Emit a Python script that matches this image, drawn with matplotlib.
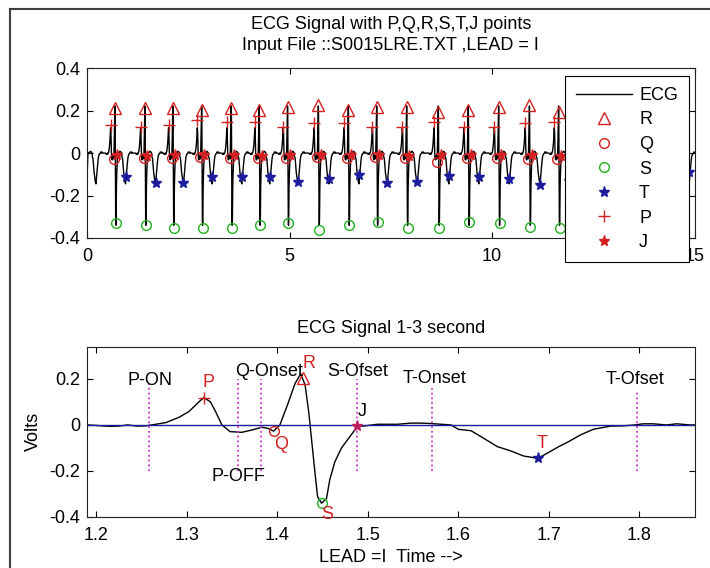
import matplotlib
matplotlib.use('Agg')
import matplotlib.pyplot as plt
from matplotlib.lines import Line2D
import numpy as np

plt.rcParams['font.family'] = ['Liberation Sans', 'DejaVu Sans']
plt.rcParams['font.size'] = 13
plt.rcParams['axes.unicode_minus'] = False

# one beat (time s, volts)
beat_t = [1.19, 1.2, 1.207, 1.215, 1.225, 1.235, 1.245, 1.255, 1.266, 1.277,
          1.2915, 1.3025, 1.3135, 1.319, 1.3264, 1.332, 1.339, 1.348, 1.361, 1.372,
          1.383, 1.390, 1.396, 1.403, 1.412, 1.4198, 1.426, 1.4308, 1.435, 1.438,
          1.4418, 1.4446, 1.449, 1.4545, 1.458, 1.4637, 1.471, 1.48, 1.4886, 1.4967,
          1.511, 1.533, 1.548, 1.559, 1.57, 1.592, 1.6, 1.614, 1.628, 1.643,
          1.658, 1.672, 1.688, 1.698, 1.711, 1.722, 1.735, 1.749, 1.768, 1.782,
          1.795, 1.804, 1.815, 1.83, 1.841, 1.856, 1.861]
beat_v = [0.0, -0.002, -0.004, -0.006, -0.005, 0.0, -0.005, -0.004, 0.003, 0.01,
          0.033, 0.058, 0.10, 0.119, 0.10, 0.058, 0.0, -0.029, -0.032, -0.022,
          -0.01, -0.015, -0.027, 0.0, 0.094, 0.181, 0.222, 0.174, 0.051, -0.065,
          -0.21, -0.312, -0.34, -0.319, -0.239, -0.16, -0.10, -0.052, -0.007, -0.004,
          0.003, 0.003, 0.008, 0.008, 0.006, 0.0, -0.019, -0.025, -0.058, -0.094,
          -0.113, -0.135, -0.145, -0.123, -0.094, -0.072, -0.043, -0.019, -0.005, -0.004,
          0.0, 0.005, 0.005, 0.0, 0.005, 0.0, 0.0]
beat_r = 1.426

# R peak times in the 15 s record and the detected point values
r_times = [0.69, 1.43, 2.12, 2.83, 3.56, 4.25, 4.95, 5.71, 6.45, 7.15,
           7.89, 8.67, 9.41, 10.16, 10.92, 11.64, 12.38, 13.12, 13.86, 14.6]
lead_beat = [-0.04]
r_vals = [0.213, 0.213, 0.213, 0.202, 0.213, 0.202, 0.215, 0.226, 0.202, 0.218,
          0.215, 0.194, 0.202, 0.218, 0.226, 0.194, 0.21, 0.21, 0.21, 0.21]
q_vals = [-0.027, -0.025, -0.022, -0.02, -0.025, -0.025, -0.022, -0.02, -0.025, -0.02,
          -0.025, -0.04, -0.025, -0.025, -0.03, -0.03, -0.025, -0.025, -0.025, -0.025]
s_vals = [-0.331, -0.339, -0.354, -0.354, -0.354, -0.339, -0.331, -0.362, -0.339, -0.326,
          -0.354, -0.354, -0.323, -0.331, -0.346, -0.354, -0.34, -0.34, -0.34, -0.34]
t_vals = [-0.111, -0.14, -0.14, -0.111, -0.111, -0.111, -0.135, -0.124, -0.104, -0.14,
          -0.135, -0.108, -0.111, -0.124, -0.15, -0.13, -0.13, -0.13, -0.13, -0.09]
p_vals = [0.132, 0.124, 0.132, 0.155, 0.147, 0.147, 0.124, 0.14, 0.14, 0.124,
          0.124, 0.147, 0.124, 0.124, 0.14, 0.147, 0.13, 0.13, 0.13, 0.13]
j_vals = [-0.01, -0.012, -0.01, -0.008, -0.01, -0.012, -0.01, -0.008, -0.01, -0.01,
          -0.012, -0.01, -0.01, -0.008, -0.01, -0.012, -0.01, -0.01, -0.01, -0.01]
# timing of each point relative to R (from the lower panel)
q_off, s_off, t_off, p_off, j_off = -0.03, 0.023, 0.262, -0.107, 0.063

# lower panel points
mark_names = ['P', 'Q', 'R', 'S', 'J', 'T']
mark_t = [1.319, 1.396, 1.428, 1.449, 1.4886, 1.688]
mark_v = [0.119, -0.027, 0.205, -0.34, -0.004, -0.145]
lab_t = [1.318, 1.397, 1.4285, 1.449, 1.489, 1.686]
lab_v = [0.185, -0.087, 0.268, -0.39, 0.058, -0.08]

bound_names = ['P-ON', 'P-OFF', 'Q-Onset', 'S-Ofset', 'T-Onset', 'T-Ofset']
bound_t = [1.258, 1.357, 1.382, 1.488, 1.571, 1.797]
bound_top = [0.18, 0.2, 0.2, 0.2, 0.16, 0.15]
bound_lab_t = [1.2347, 1.328, 1.354, 1.4556, 1.538, 1.763]
bound_lab_v = [0.193, -0.225, 0.232, 0.232, 0.203, 0.196]

red = '#d42020'
green = '#20b020'
blue = '#1c1c9c'
mag = '#cc33cc'

fig = plt.figure(figsize=(7.1, 5.68), dpi=100)

# top: whole record
ax1 = fig.add_axes([0.1225, 0.581, 0.856, 0.299])
bt = np.array(beat_t) - beat_r
sig_t = np.concatenate([bt + b for b in lead_beat + r_times])
sig_v = np.concatenate([np.array(beat_v) for b in lead_beat + r_times])
rt = np.array(r_times)
ax1.plot(sig_t, sig_v, color='black', lw=1, label='ECG')
ax1.plot(rt, r_vals, '^', mfc='none', mec=red, ms=9, mew=1, label='R')
ax1.plot(rt + q_off, q_vals, 'o', mfc='none', mec=red, ms=7, mew=1, label='Q')
ax1.plot(rt + s_off, s_vals, 'o', mfc='none', mec=green, ms=7, mew=1, label='S')
ax1.plot(rt + t_off, t_vals, '*', color=blue, ms=8, mew=1, label='T')
ax1.plot(rt + p_off, p_vals, '+', color=red, ms=9, mew=1, label='P')
ax1.plot(rt + j_off, j_vals, '*', color=red, ms=8, mew=1, label='J')
ax1.set_xlim(0, 15)
ax1.set_ylim(-0.4, 0.4)
ax1.set_xticks([0, 5, 10, 15])
ax1.set_yticks([-0.4, -0.2, 0, 0.2, 0.4])
ax1.set_yticklabels(['-0.4', '-0.2', '0', '0.2', '0.4'])
ax1.set_title('ECG Signal with P,Q,R,S,T,J points\nInput File ::S0015LRE.TXT ,LEAD = I',
              fontsize=13, pad=13, linespacing=1.3)
leg = ax1.legend(loc='upper left', bbox_to_anchor=(565 / 710, 1 - 76 / 568),
                 bbox_transform=fig.transFigure, borderaxespad=0, fancybox=False,
                 framealpha=1, edgecolor='black', numpoints=1, handlelength=3.1,
                 handletextpad=0.4, labelspacing=0.42, borderpad=0.6, fontsize=13)
leg.get_frame().set_linewidth(0.8)
leg.set_zorder(10)

# bottom: one beat with boundaries
ax2 = fig.add_axes([0.1225, 0.0898, 0.856, 0.2998])
ax2.plot(beat_t, beat_v, color='black', lw=1)
ax2.axhline(0, color=blue, lw=1)
for x, top in zip(bound_t, bound_top):
    ax2.plot([x, x], [-0.2, top], ':', color=mag, lw=1.3)
for name, x, y in zip(bound_names, bound_lab_t, bound_lab_v):
    ax2.text(x, y, name, ha='left', va='center', fontsize=13)
styles = {'P': dict(marker='+', color=red, ms=9),
          'Q': dict(marker='o', mfc='none', mec=red, ms=7),
          'R': dict(marker='^', mfc='none', mec=red, ms=9),
          'S': dict(marker='o', mfc='none', mec=green, ms=7),
          'J': dict(marker='*', color='#c02060', ms=8),
          'T': dict(marker='*', color=blue, ms=8)}
for name, x, y, lx, ly in zip(mark_names, mark_t, mark_v, lab_t, lab_v):
    ax2.plot([x], [y], ls='none', mew=1, **styles[name])
    ax2.text(lx, ly, name, ha='left', va='center', fontsize=13,
             color='black' if name == 'J' else red)
ax2.set_xlim(1.19, 1.861)
ax2.set_ylim(-0.4, 0.34)
ax2.set_xticks([1.2, 1.3, 1.4, 1.5, 1.6, 1.7, 1.8])
ax2.set_yticks([-0.4, -0.2, 0, 0.2])
ax2.set_yticklabels(['-0.4', '-0.2', '0', '0.2'])
ax2.set_title('ECG Signal 1-3 second', fontsize=13, pad=10)
ax2.set_xlabel('LEAD =I  Time -->', fontsize=13, labelpad=4)
ax2.set_ylabel('Volts', fontsize=13, labelpad=5)

for ax in (ax1, ax2):
    ax.tick_params(direction='in', length=4, width=0.8, top=True, right=True,
                   labelsize=13)
    ax.tick_params(axis='x', pad=7)
    ax.tick_params(axis='y', pad=5)
    for sp in ax.spines.values():
        sp.set_linewidth(0.8)
        sp.set_color('#222222')

# window frame seen on the left and top of the screenshot
fig.add_artist(Line2D([9.5 / 710, 9.5 / 710], [0, 1 - 8.5 / 568], color='#404040', lw=1.5))
fig.add_artist(Line2D([9.5 / 710, 1], [1 - 8.5 / 568, 1 - 8.5 / 568], color='#404040', lw=1.5))

fig.savefig('out.png', dpi=100, facecolor='white')
